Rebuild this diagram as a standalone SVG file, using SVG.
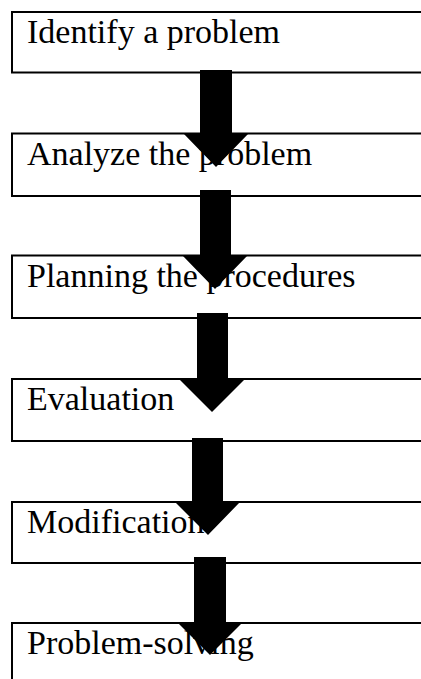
<svg xmlns="http://www.w3.org/2000/svg" width="421" height="679" viewBox="0 0 421 679">
<style>
.box{fill:#fff;stroke:#000;stroke-width:2}
.lbl{font-family:"Liberation Serif","Times New Roman",serif;font-size:34px;fill:#000}
.arr{fill:#000;stroke:none}
</style>
<rect width="421" height="679" fill="#fff"/>
<g id="n1"><rect class="box" x="12" y="12" width="430" height="60.5"/><text class="lbl" x="27" y="43">Identify a problem</text></g>
<g id="n2"><rect class="box" x="12" y="133.5" width="430" height="62.5"/><text class="lbl" x="27" y="165">Analyze the problem</text></g>
<g id="n3"><rect class="box" x="12" y="255.5" width="430" height="62.5"/><text class="lbl" x="27" y="287">Planning the procedures</text></g>
<g id="n4"><rect class="box" x="12" y="379" width="430" height="62"/><text class="lbl" x="27" y="410">Evaluation</text></g>
<g id="n5"><rect class="box" x="12" y="502" width="430" height="61"/><text class="lbl" x="27" y="533">Modification</text></g>
<g id="n6"><rect class="box" x="12" y="623" width="430" height="80"/><text class="lbl" x="27" y="654">Problem-solving</text></g>
<g id="connectors">
<polygon class="arr" points="200,70 232,70 232,133 249,133 216,167 183,133 200,133"/>
<polygon class="arr" points="200,190 231,190 231,255 248,255 215,289 182,255 200,255"/>
<polygon class="arr" points="197,313 228,313 228,379 245,379 212,412 179,379 197,379"/>
<polygon class="arr" points="192,438 223,438 223,502 240,502 208,535 175,502 192,502"/>
<polygon class="arr" points="194,557 226,557 226,622 243,622 210,655 177,622 194,622"/>
</g>
</svg>
